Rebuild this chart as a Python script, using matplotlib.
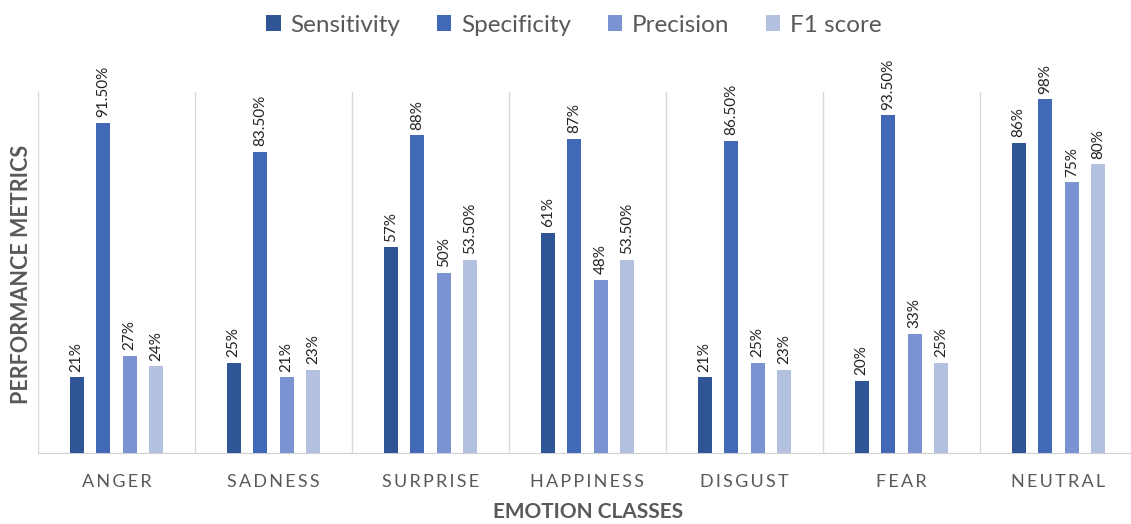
import numpy as np
import matplotlib
matplotlib.use('Agg')
import matplotlib.pyplot as plt

plt.rcParams['font.family'] = ['Lato', 'DejaVu Sans']

classes = ['ANGER', 'SADNESS', 'SURPRISE', 'HAPPINESS', 'DISGUST', 'FEAR', 'NEUTRAL']
series = ['Sensitivity', 'Specificity', 'Precision', 'F1 score']
sensitivity = [21, 25, 57, 61, 21, 20, 86]
specificity = [91.5, 83.5, 88, 87, 86.5, 93.5, 98]
precision = [27, 21, 50, 48, 25, 33, 75]
f1_score = [24, 23, 53.5, 53.5, 23, 25, 80]

sens_labels = ['21%', '25%', '57%', '61%', '21%', '20%', '86%']
spec_labels = ['91.50%', '83.50%', '88%', '87%', '86.50%', '93.50%', '98%']
prec_labels = ['27%', '21%', '50%', '48%', '25%', '33%', '75%']
f1_labels = ['24%', '23%', '53.50%', '53.50%', '23%', '25%', '80%']

colors = ['#2f5597', '#4169b8', '#7b93d0', '#b4c0e0']

fig = plt.figure(figsize=(11.31, 5.24), dpi=100)
ax = fig.add_axes([38 / 1131, 71 / 524, 1099 / 1131, 361 / 524])

x = np.arange(len(classes))
pitch = 0.169
width = 0.09
all_vals = [sensitivity, specificity, precision, f1_score]
all_labels = [sens_labels, spec_labels, prec_labels, f1_labels]
for i, (name, vals, labs) in enumerate(zip(series, all_vals, all_labels)):
    pos = x + (i - 1.5) * pitch
    ax.bar(pos, vals, width, color=colors[i], label=name, zorder=3)
    for p, v, t in zip(pos, vals, labs):
        ax.annotate(t, (p, v), xytext=(0, 4), textcoords='offset points',
                    rotation=90, ha='center', va='bottom', fontsize=11,
                    color='#222222')

ax.set_xlim(-0.5, len(classes) - 0.5)
ax.set_ylim(0, 100)
for b in np.arange(len(classes)) - 0.5:
    ax.axvline(b, color='#d9d9d9', lw=1, zorder=1)
for s in ['top', 'right', 'left']:
    ax.spines[s].set_visible(False)
ax.spines['bottom'].set_color('#d0d0d0')
ax.set_yticks([])
ax.set_xticks(x)
spaced = ['\u2009'.join(c) for c in classes]
ax.set_xticklabels(spaced, fontsize=13, color='#595959')
ax.tick_params(axis='x', length=0, pad=15)

fig.text(588 / 1131, 12 / 524, 'EMOTION CLASSES', ha='center', va='center',
         fontsize=15, fontweight='bold', color='#595959')
fig.text(22 / 1131, 250 / 524, 'PERFORMANCE METRICS', ha='center', va='center',
         rotation=90, fontsize=15.5, fontweight='bold', color='#595959')

fig.legend(loc='center', bbox_to_anchor=(574 / 1131, 1 - 25 / 524), ncol=4,
           frameon=False, fontsize=17.5, handlelength=0.6, handleheight=0.6,
           handletextpad=0.4, columnspacing=1.5, labelcolor='#595959')

fig.savefig('out.png', dpi=100)
